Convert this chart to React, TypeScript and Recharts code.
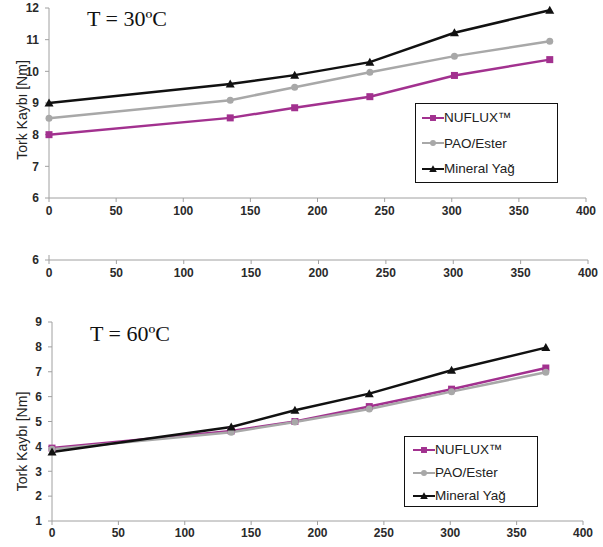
import React from 'react';
import { LineChart, Line, XAxis, YAxis, Legend } from 'recharts';

// ---- data ----
const speeds30 = [0, 135, 183, 239, 302, 373];
const nuflux30 = [8.0, 8.53, 8.85, 9.2, 9.87, 10.37];
const pao30 = [8.52, 9.09, 9.5, 9.97, 10.48, 10.95];
const mineral30 = [9.0, 9.6, 9.88, 10.29, 11.22, 11.93];

const speeds60 = [0, 135, 183, 239, 301, 372];
const nuflux60 = [3.93, 4.62, 5.0, 5.6, 6.3, 7.15];
const pao60 = [3.88, 4.57, 4.98, 5.5, 6.2, 6.98];
const mineral60 = [3.77, 4.78, 5.45, 6.12, 7.06, 7.97];

const xTicks = [0, 50, 100, 150, 200, 250, 300, 350, 400];
const yTicks30 = [6, 7, 8, 9, 10, 11, 12];
const yTicks60 = [1, 2, 3, 4, 5, 6, 7, 8, 9];
const strayTicks = [6];
const strayValues = [6, 6];
const straySpeeds = [0, 400];
const seriesNames = ['NUFLUX™', 'PAO/Ester', 'Mineral Yağ'];
const titles = ['T = 30ºC', 'T = 60ºC'];
const yLabel = 'Tork Kaybı [Nm]';

const build = (s: number[], a: number[], b: number[], c: number[]) =>
  s.map((x, i) => ({ speed: x, nuflux: a[i], pao: b[i], mineral: c[i] }));

const data30 = build(speeds30, nuflux30, pao30, mineral30);
const data60 = build(speeds60, nuflux60, pao60, mineral60);
const strayData = straySpeeds.map((s, i) => ({ speed: s, base: strayValues[i] }));

// ---- styles ----
const MAGENTA = '#a2318f';
const GRAY = '#a8a8a8';
const BLACK = '#111111';
const AXIS = '#a0a0a0';
const SANS = '"Liberation Sans", Arial, sans-serif';

const tickStyle = { fill: '#2a2a2a', fontSize: 12, fontWeight: 'bold' as const, fontFamily: SANS };

const markerFor = (name: string) => {
  if (name === seriesNames[0]) return 'square';
  if (name === seriesNames[1]) return 'circle';
  return 'triangle';
};

const Marker = ({ kind, cx, cy, color, s = 1 }: { kind: string; cx: number; cy: number; color: string; s?: number }) => {
  if (kind === 'square') return <rect x={cx - 3.5 * s} y={cy - 3.5 * s} width={7 * s} height={7 * s} fill={color} />;
  if (kind === 'circle') return <circle cx={cx} cy={cy} r={3.5 * s} fill={color} />;
  return (
    <polygon
      points={`${cx},${cy - 4.5 * s} ${cx + 4.5 * s},${cy + 3.5 * s} ${cx - 4.5 * s},${cy + 3.5 * s}`}
      fill={color}
    />
  );
};

const dotFn = (kind: string, color: string) => (props: any) => {
  const { cx, cy, index } = props;
  if (cx == null || cy == null) return <g key={`d-${index}`} />;
  return (
    <g key={`d-${kind}-${index}`}>
      <Marker kind={kind} cx={cx} cy={cy} color={color} />
    </g>
  );
};

const makeLegend = (rowGap: number, padTop: number, padLeft: number) => (props: any) => {
  const payload = [...(props.payload || [])].sort(
    (a: any, b: any) => seriesNames.indexOf(a.value) - seriesNames.indexOf(b.value)
  );
  return (
    <div
      style={{
        border: '1.5px solid #111',
        background: '#fff',
        boxSizing: 'border-box',
        width: '100%',
        height: '100%',
        paddingTop: padTop,
        paddingLeft: padLeft,
        fontFamily: SANS,
        fontSize: 13.5,
        color: '#222',
      }}
    >
      {payload.map((e: any, i: number) => (
        <div key={i} style={{ display: 'flex', alignItems: 'center', height: rowGap }}>
          <svg width={22} height={12} style={{ display: 'block' }}>
            <line x1={0} y1={6} x2={22} y2={6} stroke={e.color} strokeWidth={2} />
            <Marker kind={markerFor(e.value)} cx={11} cy={6} color={e.color} s={0.85} />
          </svg>
          <span>{e.value}</span>
        </div>
      ))}
    </div>
  );
};

const yLabelContent = (dy: number) => (props: any) => {
  const vb = props.viewBox || { x: 0, y: 0, width: 0, height: 0 };
  const x = 22;
  const y = vb.y + vb.height / 2 + dy;
  return (
    <text
      x={x}
      y={y}
      transform={`rotate(-90, ${x}, ${y})`}
      textAnchor="middle"
      dominantBaseline="central"
      fontFamily={SANS}
      fontSize={14}
      fill="#222"
    >
      {yLabel}
    </text>
  );
};

export default function App() {
  const titleStyle: React.CSSProperties = {
    position: 'absolute',
    fontFamily: '"Liberation Serif", "Times New Roman", serif',
    fontSize: 22,
    lineHeight: '22px',
    color: '#111',
    whiteSpace: 'nowrap',
  };
  return (
    <div style={{ position: 'absolute', left: 0, top: 0, width: 603, height: 547, background: '#fff', overflow: 'hidden' }}>
      {/* top chart */}
      <div style={{ position: 'absolute', left: 0, top: 0 }}>
        <LineChart width={603} height={220} data={data30} margin={{ top: 8, right: 17, bottom: 0, left: 0 }}>
          <XAxis
            dataKey="speed"
            type="number"
            domain={[0, 400]}
            ticks={xTicks}
            stroke={AXIS}
            tick={tickStyle}
            tickSize={4}
            tickMargin={4}
            height={22}
          />
          <YAxis
            type="number"
            domain={[6, 12]}
            ticks={yTicks30}
            stroke={AXIS}
            tick={tickStyle}
            tickSize={4}
            tickMargin={6}
            width={49}
            label={{ content: yLabelContent(7) } as any}
          />
          <Legend
            layout="vertical"
            align="center"
            verticalAlign="middle"
            wrapperStyle={{ left: 415, top: 103, width: 143, height: 80 }}
            content={makeLegend(25.5, 1, 6)}
          />
          <Line dataKey="nuflux" name={seriesNames[0]} stroke={MAGENTA} strokeWidth={2.5} dot={dotFn('square', MAGENTA)} isAnimationActive={false} />
          <Line dataKey="pao" name={seriesNames[1]} stroke={GRAY} strokeWidth={2.5} dot={dotFn('circle', GRAY)} isAnimationActive={false} />
          <Line dataKey="mineral" name={seriesNames[2]} stroke={BLACK} strokeWidth={2.5} dot={dotFn('triangle', BLACK)} isAnimationActive={false} />
        </LineChart>
      </div>
      <div style={{ ...titleStyle, left: 87, top: 8 }}>{titles[0]}</div>

      {/* stray axis */}
      <div style={{ position: 'absolute', left: 0, top: 240 }}>
        <LineChart width={603} height={42} data={strayData} margin={{ top: 15, right: 15, bottom: 0, left: 0 }}>
          <XAxis
            dataKey="speed"
            type="number"
            domain={[0, 400]}
            ticks={xTicks}
            stroke={AXIS}
            tick={tickStyle}
            tickSize={4}
            tickMargin={4}
            height={22}
          />
          <YAxis
            type="number"
            domain={[6, 6.5]}
            ticks={strayTicks}
            interval={0}
            stroke={AXIS}
            tick={tickStyle}
            tickSize={4}
            tickMargin={6}
            width={49}
          />
          <Line dataKey="base" stroke="none" dot={false} activeDot={false} legendType="none" isAnimationActive={false} />
        </LineChart>
      </div>

      {/* bottom chart */}
      <div style={{ position: 'absolute', left: 0, top: 300 }}>
        <LineChart width={603} height={247} data={data60} margin={{ top: 22, right: 20, bottom: 4, left: 0 }}>
          <XAxis
            dataKey="speed"
            type="number"
            domain={[0, 400]}
            ticks={xTicks}
            stroke={AXIS}
            tick={tickStyle}
            tickSize={4}
            tickMargin={3}
            height={22}
          />
          <YAxis
            type="number"
            domain={[1, 9]}
            ticks={yTicks60}
            stroke={AXIS}
            tick={tickStyle}
            tickSize={4}
            tickMargin={6}
            width={52}
            label={{ content: yLabelContent(20) } as any}
          />
          <Legend
            layout="vertical"
            align="center"
            verticalAlign="middle"
            wrapperStyle={{ left: 404, top: 136, width: 134, height: 71 }}
            content={makeLegend(23, 1, 8)}
          />
          <Line dataKey="nuflux" name={seriesNames[0]} stroke={MAGENTA} strokeWidth={2.5} dot={dotFn('square', MAGENTA)} isAnimationActive={false} />
          <Line dataKey="pao" name={seriesNames[1]} stroke={GRAY} strokeWidth={2.5} dot={dotFn('circle', GRAY)} isAnimationActive={false} />
          <Line dataKey="mineral" name={seriesNames[2]} stroke={BLACK} strokeWidth={2.5} dot={dotFn('triangle', BLACK)} isAnimationActive={false} />
        </LineChart>
      </div>
      <div style={{ ...titleStyle, left: 90, top: 323 }}>{titles[1]}</div>
    </div>
  );
}
